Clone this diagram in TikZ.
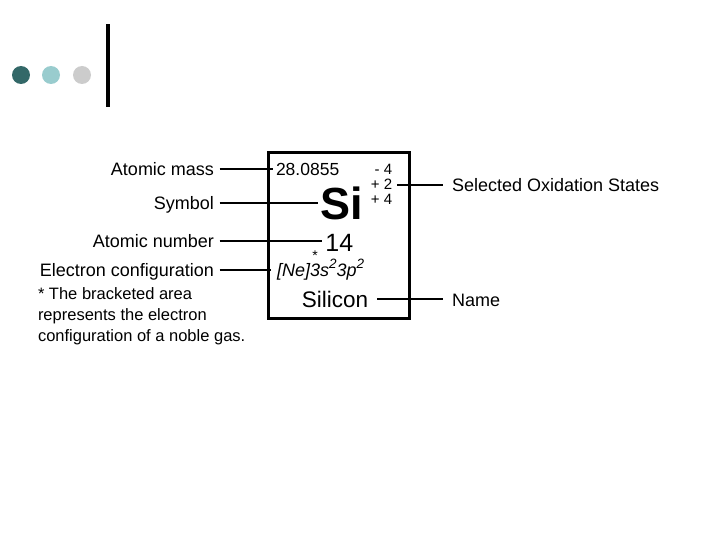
\documentclass[tikz,border=0pt]{standalone}
\usepackage{fontspec}
\setmainfont{Liberation Sans}
\definecolor{dotdark}{RGB}{51,104,104}
\definecolor{dotlight}{RGB}{153,204,206}
\definecolor{dotgrey}{RGB}{204,204,204}
\tikzset{
  lbl/.style={inner xsep=5.5pt, inner ysep=0pt, outer sep=0pt, text height=13pt, text depth=0pt,
              font=\fontsize{18}{21}\selectfont},
  rlbl/.style={inner xsep=9pt, inner ysep=0pt, outer sep=0pt, text height=13pt, text depth=0pt,
              font=\fontsize{18}{21}\selectfont},
  foot/.style={inner sep=0pt, outer sep=0pt, font=\fontsize{16.5}{21}\selectfont},
  conn/.style={line width=2pt},
  oxs/.style={inner xsep=4.8pt, inner ysep=0pt, outer sep=0pt, text height=10.7pt, text depth=0pt,
              font=\fontsize{15}{15}\selectfont},
}
\begin{document}
\begin{tikzpicture}[x=1pt,y=-1pt]
\useasboundingbox (0,0) rectangle (720,540);
% decoration
\fill[dotdark] (21,75) circle (9);
\fill[dotlight] (51,75) circle (9);
\fill[dotgrey] (82,75) circle (9);
\fill[black] (106,24) rectangle (110,107.5);
% card
\node[draw, line width=3pt, minimum width=141pt, minimum height=165.5pt, inner sep=0pt, outer sep=0pt] (card) at (339,235.25) {};
% card contents
\node[anchor=base west, inner xsep=3pt, inner ysep=0pt, outer sep=0pt, text height=12.5pt, text depth=0pt,
      font=\fontsize{17.5}{17.5}\selectfont] (mass) at (273,175.7) {28.0855};
\node[oxs, anchor=base east] (ox1) at (397,175) {- 4};
\node[oxs, anchor=base east] (ox2) at (397,190) {+ 2};
\node[oxs, anchor=base east] (ox3) at (397,205) {+ 4};
\node[anchor=base west, inner xsep=2pt, inner ysep=0pt, outer sep=0pt, text height=32pt, text depth=0pt,
      font=\fontsize{45}{45}\selectfont\bfseries] (sym) at (318,219) {Si};
\node[anchor=base west, inner xsep=3.4pt, inner ysep=0pt, outer sep=0pt, text height=17pt, text depth=0pt,
      font=\fontsize{25}{25}\selectfont] (num) at (322,251.5) {14};
\node[anchor=base west, inner xsep=6pt, inner ysep=0pt, outer sep=0pt, text height=13pt, text depth=0pt,
      font=\fontsize{18}{18}\selectfont\itshape] (cfg) at (271,276.7)
      {[Ne]3s\raisebox{8.4pt}{\fontsize{13.5}{13.5}\selectfont 2}3p\raisebox{8.4pt}{\fontsize{13.5}{13.5}\selectfont 2}};
\node[anchor=base, inner sep=0pt, font=\fontsize{14}{14}\selectfont] (star) at (315,260) {*};
\node[anchor=base east, inner xsep=8.8pt, inner ysep=0pt, outer sep=0pt, text height=15.8pt, text depth=0pt,
      font=\fontsize{22.5}{22.5}\selectfont] (silicon) at (377,307.3) {Silicon};
% left labels
\node[lbl, anchor=base east] (lmass) at (219.5,176) {Atomic mass};
\node[lbl, anchor=base east] (lsym) at (219.5,210) {Symbol};
\node[lbl, anchor=base east] (lnum) at (219.5,247.3) {Atomic number};
\node[lbl, anchor=base east] (lcfg) at (219.5,276) {Electron configuration};
\node[foot, anchor=base west] (fn1) at (38,299.3) {* The bracketed area};
\node[foot, anchor=base west] (fn2) at (38,320.5) {represents the electron};
\node[foot, anchor=base west] (fn3) at (38,341.7) {configuration of a noble gas.};
% right labels
\node[rlbl, anchor=base west] (lox) at (443,191.7) {Selected Oxidation States};
\node[rlbl, anchor=base west] (lname) at (443,306.5) {Name};
% connectors
\draw[conn] (lmass.east) -- (lmass.east -| mass.west);
\draw[conn] (lsym.east) -- (lsym.east -| sym.west);
\draw[conn] (lnum.east) -- (lnum.east -| num.west);
\draw[conn] (lcfg.east) -- (lcfg.east -| cfg.west);
\draw[conn] (ox2.east) -- (ox2.east -| lox.west);
\draw[conn] (silicon.east) -- (silicon.east -| lname.west);
\end{tikzpicture}
\end{document}
